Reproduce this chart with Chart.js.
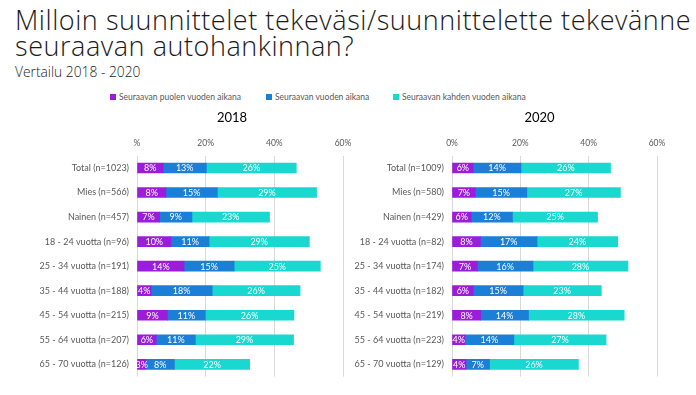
<!DOCTYPE html>
<html>
<head>
<meta charset="utf-8">
<script src="https://cdn.jsdelivr.net/npm/chart.js@4.4.1/dist/chart.umd.min.js"></script>
<style>
  body { margin: 0; width: 696px; height: 395px; background: #fff; position: relative; overflow: hidden; font-family: Lato, sans-serif; }
  #title { position: absolute; left: 15px; top: 7px; font-family: 'Open Sans', sans-serif; font-size: 27px; line-height: 25.5px; color: #1a1a1a; font-weight: 300; white-space: nowrap; letter-spacing: 0.55px; }
  #sub { position: absolute; left: 15px; top: 62px; font-family: 'Open Sans', sans-serif; font-size: 13.8px; color: #1a1a1a; font-weight: 300; }
  #legend { position: absolute; top: 91px; left: 0; width: 696px; height: 14px; }
  .item { position: absolute; top: 0; font-size: 8.5px; color: #595959; white-space: nowrap; line-height: 12px; }
  .item span { display: inline-block; width: 6px; height: 6px; margin-right: 3px; vertical-align: 0px; }
  .cv { position: absolute; }
</style>
</head>
<body>
<div id="title">Milloin suunnittelet tekeväsi/suunnittelette tekevänne<br>seuraavan autohankinnan?</div>
<div id="sub">Vertailu 2018 - 2020</div>
<div id="legend"></div>
<div class="cv" style="left:0;top:105px;width:360px;height:285px"><canvas id="chart2018"></canvas></div>
<div class="cv" style="left:350px;top:105px;width:346px;height:285px"><canvas id="chart2020"></canvas></div>
<script>
const seriesNames = ['Seuraavan puolen vuoden aikana', 'Seuraavan vuoden aikana', 'Seuraavan kahden vuoden aikana'];
const seriesColors = ['#9B1DDB', '#1B7FD8', '#19D8CF'];

const categories2018 = ['Total (n=1023)', 'Mies (n=566)', 'Nainen (n=457)', '18 - 24 vuotta (n=96)', '25 - 34 vuotta (n=191)',
    '35 - 44 vuotta (n=188)', '45 - 54 vuotta (n=215)', '55 - 64 vuotta (n=207)', '65 - 70 vuotta (n=126)'];
const halfYear2018 = [7.6, 8.4, 6.6, 9.9, 13.7, 4.1, 8.9, 5.6, 2.6];
const oneYear2018 = [12.6, 15.0, 9.4, 11.1, 14.6, 17.8, 11.0, 11.4, 8.3];
const twoYears2018 = [26.2, 28.9, 22.6, 29.2, 25.1, 25.6, 25.8, 28.6, 21.9];

const categories2020 = ['Total (n=1009)', 'Mies (n=580)', 'Nainen (n=429)', '18 - 24 vuotta (n=82)', '25 - 34 vuotta (n=174)',
    '35 - 44 vuotta (n=182)', '45 - 54 vuotta (n=219)', '55 - 64 vuotta (n=223)', '65 - 70 vuotta (n=129)'];
const halfYear2020 = [6.2, 6.8, 5.6, 8.3, 7.4, 6.2, 8.4, 3.8, 4.1];
const oneYear2020 = [14.0, 15.1, 12.1, 16.6, 16.3, 14.6, 14.0, 14.3, 6.9];
const twoYears2020 = [26.2, 27.4, 24.9, 23.6, 27.8, 22.9, 28.0, 27.0, 26.0];

const axisMax = 60;
const axisStep = 20;

// legend as plain text above both charts
const legendLeft = [110, 266, 393];
seriesNames.forEach(function(name, i) {
    const el = document.createElement('div');
    el.className = 'item';
    el.style.left = legendLeft[i] + 'px';
    el.innerHTML = '<span style="background:' + seriesColors[i] + '"></span>' + name;
    document.getElementById('legend').appendChild(el);
});

// white percentage text in the middle of each segment
const segmentLabels = {
    id: 'segmentLabels',
    afterDatasetsDraw: function(chart) {
        const ctx = chart.ctx;
        ctx.save();
        ctx.fillStyle = '#ffffff';
        ctx.font = '9px Lato';
        ctx.textAlign = 'center';
        ctx.textBaseline = 'middle';
        chart.data.datasets.forEach(function(ds, di) {
            chart.getDatasetMeta(di).data.forEach(function(bar, i) {
                const p = bar.getProps(['x', 'y', 'base'], true);
                ctx.fillText(Math.round(ds.data[i]) + '%', (p.x + p.base) / 2, p.y + 0.5);
            });
        });
        ctx.restore();
    }
};

// year heading, a bit left of the plot centre like in the slide
const panelTitle = {
    id: 'panelTitle',
    afterDraw: function(chart, args, opts) {
        const ctx = chart.ctx;
        const a = chart.chartArea;
        ctx.save();
        ctx.fillStyle = '#000';
        ctx.font = '13px Lato';
        ctx.textAlign = 'center';
        ctx.textBaseline = 'middle';
        ctx.fillText(opts.text, (a.left + a.right) / 2 + opts.shift, 13);
        ctx.restore();
    }
};

function makeChart(id, title, shift, labels, values, zeroText, axisWidth, padRight) {
    const ctx = document.getElementById(id).getContext('2d');
    return new Chart(ctx, {
        type: 'bar',
        data: {
            labels: labels,
            datasets: values.map(function(v, i) {
                return {
                    label: seriesNames[i],
                    data: v,
                    backgroundColor: seriesColors[i],
                    borderWidth: 0,
                    barThickness: 10
                };
            })
        },
        options: {
            indexAxis: 'y',
            responsive: true,
            maintainAspectRatio: false,
            animation: false,
            layout: { padding: { left: 0, right: padRight, top: 26.5, bottom: 10.5 } },
            plugins: {
                legend: { display: false },
                tooltip: { enabled: false },
                title: { display: false },
                panelTitle: { text: title, shift: shift }
            },
            scales: {
                x: {
                    position: 'top',
                    stacked: true,
                    min: 0,
                    max: axisMax,
                    ticks: {
                        stepSize: axisStep,
                        color: '#595959',
                        font: { family: 'Lato', size: 8.5 },
                        padding: 7,
                        callback: function(v) { return v === 0 ? zeroText : v + '%'; }
                    },
                    grid: { color: '#d9d9d9', drawTicks: false },
                    border: { display: false }
                },
                y: {
                    stacked: true,
                    ticks: {
                        color: '#595959',
                        font: { family: 'Lato', size: 9 },
                        padding: 8
                    },
                    grid: { display: false, drawTicks: false },
                    border: { display: false },
                    afterFit: function(scale) { scale.width = axisWidth; }
                }
            }
        },
        plugins: [segmentLabels, panelTitle]
    });
}

makeChart('chart2018', '2018', -8, categories2018, [halfYear2018, oneYear2018, twoYears2018], '%', 137, 17);
makeChart('chart2020', '2020', -15, categories2020, [halfYear2020, oneYear2020, twoYears2020], '0%', 102, 39);
</script>
</body>
</html>
